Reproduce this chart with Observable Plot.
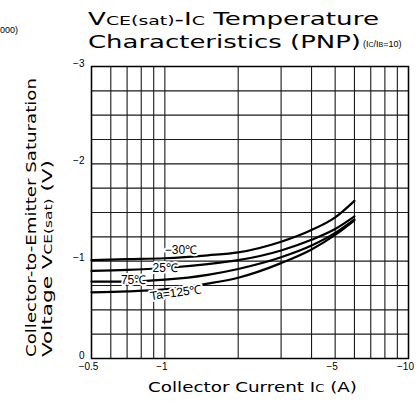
<!DOCTYPE html>
<html><head><meta charset="utf-8">
<script src="https://cdn.jsdelivr.net/npm/d3@7"></script>
<script src="https://cdn.jsdelivr.net/npm/@observablehq/plot@0.6"></script>
<style>
body{margin:0;background:#fff;overflow:hidden}
#wrap{position:relative;width:416px;height:402px;overflow:hidden;background:#fff}
#wrap svg{position:absolute;left:0;top:0}
</style></head><body><div id="wrap"></div>
<script>
// Collector current Ic (A)
const current = [-0.5, -0.7, -1, -1.5, -2, -3, -4, -5, -6];
// VCE(sat) (V) per ambient temperature
const vMinus30 = [-1.01, -1.02, -1.03, -1.06, -1.09, -1.20, -1.32, -1.45, -1.62];
const v25      = [-0.90, -0.91, -0.93, -0.97, -1.01, -1.11, -1.22, -1.33, -1.46];
const v75      = [-0.79, -0.79, -0.81, -0.86, -0.92, -1.04, -1.16, -1.29, -1.43];
const v125     = [-0.68, -0.69, -0.71, -0.77, -0.83, -0.98, -1.12, -1.27, -1.42];
const seriesNames = ["−30℃", "25℃", "75℃", "Ta=125℃"];

const xTicks = [-0.5, -1, -5, -10];
const xTickLabels = ["−0.5", "−1", "−5", "−10"];
const yTicks = [0, -1, -2, -3];
const yTickLabels = ["0", "−1", "−2", "−3"];
const xGrid = [-0.5, -0.6, -0.7, -0.8, -0.9, -1, -2, -3, -4, -5, -6, -7, -8, -9, -10];
const yGrid = [0, -0.25, -0.5, -0.75, -1, -1.25, -1.5, -1.75, -2, -2.25, -2.5, -2.75, -3];

// label anchor positions (data coords)
const labelI = [-1.0, -0.89, -0.66, -1.11];
const labelV = [-1.11, -0.925, -0.80, -0.675];

const allV = [vMinus30, v25, v75, v125];
const rows = [];
allV.forEach((vs, k) => vs.forEach((v, i) => rows.push({I: current[i], V: v, T: seriesNames[k]})));
const labels = seriesNames.map((t, k) => ({I: labelI[k], V: labelV[k], t}));
const xTickRows = xTicks.map((d, i) => ({x: d, t: xTickLabels[i]}));

const font = "'Liberation Sans', Arial, sans-serif";
const font2 = "'DejaVu Sans', Verdana, sans-serif";

const chart = Plot.plot({
  width: 416, height: 402,
  marginTop: 66, marginBottom: 44, marginLeft: 91, marginRight: 8,
  style: {fontFamily: font, fontSize: "10px", background: "white", color: "#000"},
  x: {type: "log", domain: [-0.5, -10], axis: null},
  y: {domain: [0, -3]},
  marks: [
    Plot.ruleX(xGrid, {stroke: "#1a1a1a", strokeWidth: 1.1}),
    Plot.ruleY(yGrid, {stroke: "#1a1a1a", strokeWidth: 1.1}),
    Plot.line(rows, {x: "I", y: "V", z: "T", stroke: "#000", strokeWidth: 2.2, curve: "monotone-x"}),
    Plot.text(labels.slice(0, 3), {x: "I", y: "V", text: "t", textAnchor: "start", fontSize: 12, fill: "#000", stroke: "white", strokeWidth: 4}),
    Plot.text(labels.slice(3), {x: "I", y: "V", text: "t", textAnchor: "middle", rotate: -8, fontSize: 12, fill: "#000", stroke: "white", strokeWidth: 4}),
    Plot.frame({stroke: "#000", strokeWidth: 1.5}),
    Plot.text(xTickRows, {x: "x", text: "t", frameAnchor: "bottom", dy: 11, dx: -3, fontSize: 10, fill: "#000"}),
    Plot.axisY(yTicks, {tickFormat: d => yTickLabels[yTicks.indexOf(d)], tickSize: 0, tickPadding: 7, dy: -3, fontSize: 10, label: null})
  ]
});
const wrap = document.getElementById("wrap");
wrap.appendChild(chart);

// overlay texts
const svg = d3.select(wrap).append("svg").attr("width", 416).attr("height", 402)
  .style("font-family", font2).attr("fill", "#000");
const t1 = svg.append("text").attr("x", 88).attr("y", 25).attr("font-size", 18)
  .attr("textLength", 291).attr("lengthAdjust", "spacingAndGlyphs");
t1.append("tspan").text("V");
t1.append("tspan").attr("font-size", 13).text("CE(sat)");
t1.append("tspan").text("-I");
t1.append("tspan").attr("font-size", 13).text("C");
t1.append("tspan").text(" Temperature");
svg.append("text").attr("x", 88).attr("y", 48).attr("font-size", 18)
  .attr("textLength", 273).attr("lengthAdjust", "spacingAndGlyphs").text("Characteristics (PNP)");
const t3 = svg.append("text").attr("x", 363).attr("y", 47).attr("font-size", 9).style("font-family", font);
t3.append("tspan").text("(I");
t3.append("tspan").attr("font-size", 7).text("C");
t3.append("tspan").text("/I");
t3.append("tspan").attr("font-size", 7).text("B");
t3.append("tspan").text("=10)");
svg.append("text").attr("x", 0).attr("y", 33).attr("font-size", 9).style("font-family", font).text("000)");

svg.append("text").attr("transform", "translate(36,357) rotate(-90)").attr("font-size", 14)
  .attr("textLength", 279).attr("lengthAdjust", "spacingAndGlyphs").text("Collector-to-Emitter Saturation");
const yl2 = svg.append("text").attr("transform", "translate(52,357) rotate(-90)").attr("font-size", 14)
  .attr("textLength", 197).attr("lengthAdjust", "spacingAndGlyphs");
yl2.append("tspan").text("Voltage V");
yl2.append("tspan").attr("font-size", 10).text("CE(sat)");
yl2.append("tspan").text("  (V)");

const xl = svg.append("text").attr("x", 148).attr("y", 392).attr("font-size", 14)
  .attr("textLength", 209).attr("lengthAdjust", "spacingAndGlyphs");
xl.append("tspan").text("Collector Current I");
xl.append("tspan").attr("font-size", 10).text("C");
xl.append("tspan").text("  (A)");
</script></body></html>
